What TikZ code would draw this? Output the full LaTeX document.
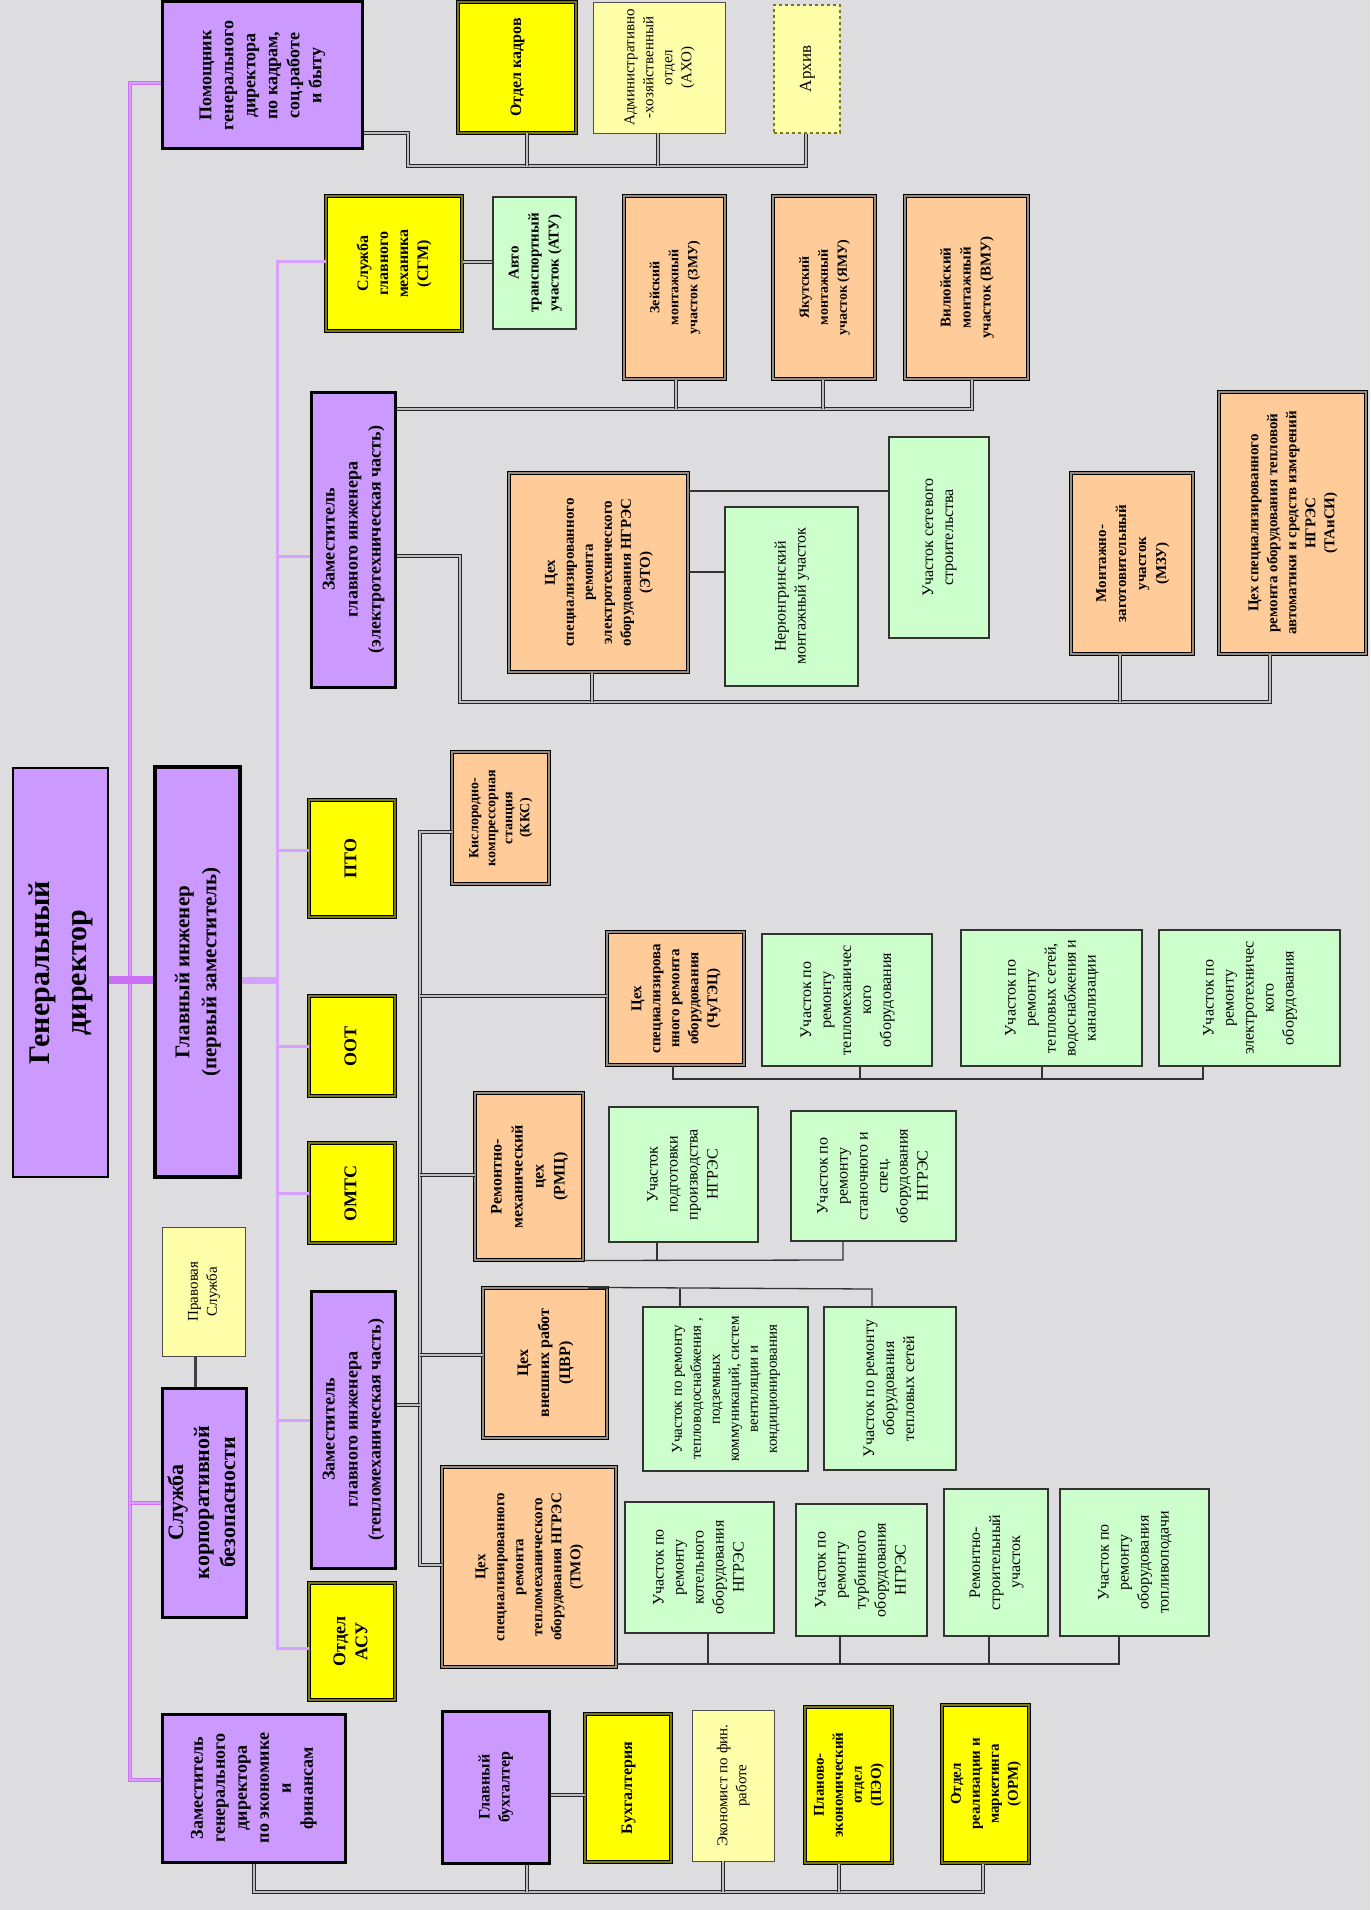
\documentclass[tikz,border=0pt]{standalone}
\usepackage{graphicx}
\usepackage{fontspec}
\setmainfont{Liberation Serif}

\definecolor{bg}{RGB}{221,221,223}
\definecolor{purp}{RGB}{204,153,255}
\definecolor{yel}{RGB}{255,255,0}
\definecolor{ltyel}{RGB}{255,255,170}
\definecolor{orng}{RGB}{255,204,153}
\definecolor{grn}{RGB}{204,255,204}
\definecolor{mag}{RGB}{204,112,245}
\definecolor{lmag}{RGB}{214,160,255}
\definecolor{ydbl}{RGB}{120,120,20}
\definecolor{odbl}{RGB}{150,140,130}
\definecolor{dcol}{RGB}{190,190,192}

\newcommand\rt[1]{\rotatebox{90}{\begin{tabular}{@{}c@{}}#1\end{tabular}}}

\tikzset{
  rect/.style args={#1/#2/#3/#4}{at={({(#1+#3)/2},{(#2+#4)/2})},
    minimum width={(#3-#1)*1pt}, minimum height={(#4-#2)*1pt}},
  pbox/.style={fill=purp, draw=black, line width=3pt, inner sep=0pt,
    font=\fontsize{16}{20}\selectfont\bfseries},
  ybox/.style={fill=yel, draw=black, double=ydbl, double distance=1.6pt,
    line width=1pt, inner sep=0pt, font=\fontsize{16}{20}\selectfont\bfseries},
  obox/.style={fill=orng, draw=black, double=odbl, double distance=1.6pt,
    line width=1pt, inner sep=0pt, font=\fontsize{15}{19}\selectfont\bfseries},
  gbox/.style={fill=grn, draw=black!80, line width=1.2pt, inner sep=0pt,
    font=\fontsize{16}{20}\selectfont},
  lybox/.style={fill=ltyel, draw=black!70, line width=0.8pt, inner sep=0pt,
    font=\fontsize{15}{19}\selectfont},
  mline/.style={draw=mag, double=lmag, double distance=1.6pt, line width=1.3pt},
  iline/.style={draw=lmag, line width=3pt},
  dline/.style={draw=black!85, double=dcol, double distance=1.4pt, line width=0.9pt},
  sline/.style={draw=black!80, line width=1.3pt}
}

\begin{document}
\begin{tikzpicture}[x=1pt,y=-1pt]
  \useasboundingbox (0,0) rectangle (1370,1910);
  \fill[bg] (0,0) rectangle (1370,1910);

  % top level
  \node[pbox, line width=2pt, rect=13/768/108/1177, font=\fontsize{30}{37}\selectfont\bfseries] (gd) {\rt{Генеральный\\директор}};
  \node[pbox, line width=4pt, rect=155/767/240/1177, font=\fontsize{21}{27}\selectfont\bfseries] (gi) {\rt{Главный инженер\\(первый заместитель)}};
  \node[pbox, rect=162/2/362/149, font=\fontsize{18}{22}\selectfont\bfseries] (pom) {\rt{Помощник\\генерального\\директора\\по кадрам,\\соц.работе\\и быту}};
  \node[lybox, rect=162/1227/245/1356] (prav) {\rt{Правовая\\Служба}};
  \node[pbox, rect=162/1388/246/1617, font=\fontsize{22}{26}\selectfont\bfseries] (skb) {\rt{Служба\\корпоративной\\безопасности}};
  \node[pbox, rect=162/1714/345/1862, font=\fontsize{18}{22}\selectfont\bfseries] (zamek) {\rt{Заместитель\\генерального\\директора\\по экономике\\и\\финансам}};

  % kadry
  \node[ybox, rect=458/2/576/133] (okadr) {\rt{Отдел кадров}};
  \node[lybox, rect=593/2/725/133] (akho) {\rt{Административно\\-хозяйственный\\отдел\\(АХО)}};
  \node[lybox, dashed, draw=ydbl, line width=1.2pt, rect=774/5/840/133, font=\fontsize{17}{20}\selectfont] (arkhiv) {\rt{Архив}};

  % second column
  \node[ybox, rect=326/196/462/331] (sgm) {\rt{Служба\\главного\\механика\\(СГМ)}};
  \node[gbox, rect=493/197/576/329, font=\fontsize{15}{20}\selectfont\bfseries] (atu) {\rt{Авто\\транспортный\\участок (АТУ)}};
  \node[pbox, rect=311/392/395/687, font=\fontsize{18}{23}\selectfont\bfseries] (etoz) {\rt{Заместитель\\главного инженера\\(электротехническая часть)}};
  \node[ybox, rect=309/800/395/917, font=\fontsize{18}{22}\selectfont\bfseries] (pto) {\rt{ПТО}};
  \node[ybox, rect=309/996/395/1096, font=\fontsize{18}{22}\selectfont\bfseries] (oot) {\rt{ООТ}};
  \node[ybox, rect=309/1143/395/1243, font=\fontsize{18}{22}\selectfont\bfseries] (omts) {\rt{ОМТС}};
  \node[pbox, rect=311/1291/395/1568, font=\fontsize{18}{23}\selectfont\bfseries] (tmoz) {\rt{Заместитель\\главного инженера\\(тепломеханическая часть)}};
  \node[ybox, rect=309/1583/395/1700, font=\fontsize{18}{22}\selectfont\bfseries] (asu) {\rt{Отдел\\АСУ}};

  % electro
  \node[obox, rect=624/196/725/379, font=\fontsize{14}{19}\selectfont\bfseries] (zmu) {\rt{Зейский\\монтажный\\участок (ЗМУ)}};
  \node[obox, rect=773/196/875/379, font=\fontsize{14}{19}\selectfont\bfseries] (yamu) {\rt{Якутский\\монтажный\\участок (ЯМУ)}};
  \node[obox, rect=905/196/1028/379, font=\fontsize{15}{20}\selectfont\bfseries] (vmu) {\rt{Вилюйский\\монтажный\\участок (ВМУ)}};
  \node[obox, rect=509/473/688/672] (eto) {\rt{Цех\\специализированного\\ремонта\\электротехнического\\оборудования НГРЭС\\(ЭТО)}};
  \node[gbox, rect=725/507/858/686] (neryu) {\rt{Нерюнгринский\\монтажный участок}};
  \node[gbox, rect=889/437/989/638] (setev) {\rt{Участок сетевого\\строительства}};
  \node[obox, rect=1071/473/1193/654, font=\fontsize{15}{20}\selectfont\bfseries] (mzu) {\rt{Монтажно-\\заготовительный\\участок\\(МЗУ)}};
  \node[obox, rect=1219/392/1366/654] (taisi) {\rt{Цех специализированного\\ремонта оборудования тепловой\\автоматики и средств измерений\\НГРЭС\\(ТАиСИ)}};

  % teplo
  \node[obox, rect=452/752/549/884, font=\fontsize{14}{17}\selectfont\bfseries] (kks) {\rt{Кислородно-\\компрессорная\\станция\\(ККС)}};
  \node[obox, rect=607/932/744/1065] (chutec) {\rt{Цех\\специализирова\\нного ремонта\\оборудования\\(ЧуТЭЦ)}};
  \node[gbox, rect=762/934/932/1066] (u_tm) {\rt{Участок по\\ремонту\\тепломеханичес\\кого\\оборудования}};
  \node[gbox, rect=961/930/1142/1066] (u_ts) {\rt{Участок по\\ремонту\\тепловых сетей,\\водоснабжения и\\канализации}};
  \node[gbox, rect=1159/930/1340/1066] (u_el) {\rt{Участок по\\ремонту\\электротехничес\\кого\\оборудования}};
  \node[obox, rect=475/1093/583/1260, font=\fontsize{16}{21}\selectfont\bfseries] (rmc) {\rt{Ремонтно-\\механический\\цех\\(РМЦ)}};
  \node[gbox, rect=609/1107/758/1242] (u_pp) {\rt{Участок\\подготовки\\производства\\НГРЭС}};
  \node[gbox, rect=791/1111/956/1241] (u_st) {\rt{Участок по\\ремонту\\станочного и\\спец.\\оборудования\\НГРЭС}};
  \node[obox, rect=483/1288/607/1438, font=\fontsize{16}{21}\selectfont\bfseries] (cvr) {\rt{Цех\\внешних работ\\(ЦВР)}};
  \node[gbox, rect=643/1307/808/1471, font=\fontsize{15}{19}\selectfont] (u_tv) {\rt{Участок по ремонту\\тепловодоснабжения ,\\подземных\\коммуникаций, систем\\вентиляции и\\кондиционирования}};
  \node[gbox, rect=824/1307/956/1470] (u_ot) {\rt{Участок по ремонту\\оборудования\\тепловых сетей}};
  \node[obox, rect=442/1467/616/1667] (tmo) {\rt{Цех\\специализированного\\ремонта\\тепломеханического\\оборудования НГРЭС\\(ТМО)}};
  \node[gbox, rect=625/1502/774/1633] (u_ko) {\rt{Участок по\\ремонту\\котельного\\оборудования\\НГРЭС}};
  \node[gbox, rect=796/1504/927/1636] (u_tu) {\rt{Участок по\\ремонту\\турбинного\\оборудования\\НГРЭС}};
  \node[gbox, rect=944/1489/1048/1636] (u_rs) {\rt{Ремонтно-\\строительный\\участок}};
  \node[gbox, rect=1060/1489/1209/1636] (u_tp) {\rt{Участок по\\ремонту\\оборудования\\топливоподачи}};

  % finance
  \node[pbox, rect=442/1711/549/1863] (gb) {\rt{Главный\\бухгалтер}};
  \node[ybox, rect=585/1714/671/1862] (buh) {\rt{Бухгалтерия}};
  \node[lybox, rect=692/1710/774/1861] (ekon) {\rt{Экономист по фин.\\работе}};
  \node[ybox, rect=805/1707/892/1863, font=\fontsize{15}{19}\selectfont\bfseries] (peo) {\rt{Планово-\\экономический\\отдел\\(ПЭО)}};
  \node[ybox, rect=942/1705/1029/1863, font=\fontsize{15}{19}\selectfont\bfseries] (orm) {\rt{Отдел\\реализации и\\маркетинга\\(ОРМ)}};

  % magenta lines
  \draw[mline] (pom.west|-0,83) -| (130,1780) -- (zamek.west|-0,1780);
  \draw[mline] (130,1503) -- (skb.west|-0,1503);
  \draw[draw=mag, line width=8pt] (gd.east|-0,980) -- (gi.west|-0,980);
  \draw[iline] (sgm.west|-0,262) -| (277,1648) -- (asu.west|-0,1648);
  \foreach \n/\y in {etoz/556, pto/850, oot/1046, omts/1193, tmoz/1420}
    \draw[iline] (277,\y) -- (\n.west|-0,\y);
  \draw[iline, line width=7pt] (gi.east|-0,980) -- (277,980);

  % black lines
  \draw[dline] (pom.east|-0,133) -- (408,133) |- (806,166) -- (arkhiv.south -| 806,0);
  \foreach \n/\x in {okadr/527, akho/658}
    \draw[dline] (\n.south -| \x,0) -- (\x,166);
  \draw[dline] (sgm.east|-0,262) -- (atu.west|-0,262);
  \draw[dline] (etoz.east|-0,409) -| (vmu.south -| 972,0);
  \foreach \n/\x in {zmu/676, yamu/823}
    \draw[dline] (\n.south -| \x,0) -- (\x,409);
  \draw[dline] (etoz.east|-0,556) -- (460,556) |- (1270,702) -- (taisi.south -| 1270,0);
  \foreach \n/\x in {eto/592, mzu/1120}
    \draw[dline] (\n.south -| \x,0) -- (\x,702);
  \draw[sline] (eto.east|-0,572) -- (neryu.west|-0,572);
  \draw[sline] (eto.east|-0,491) -- (setev.west|-0,491);

  \draw[dline] (kks.west|-0,832) -| (420,1565) -- (tmo.west|-0,1565);
  \foreach \n/\y in {chutec/996, rmc/1175, cvr/1355}
    \draw[dline] (420,\y) -- (\n.west|-0,\y);
  \draw[dline] (tmoz.east|-0,1405) -- (420,1405);

  \draw[sline] (chutec.south -| 673,0) -- (673,1079) -| (u_el.south -| 1203,0);
  \foreach \n/\x in {u_tm/860, u_ts/1042}
    \draw[sline] (\n.south -| \x,0) -- (\x,1079);
  \draw[sline] (rmc.south east) -- (843,1260) -- (u_st.south -| 843,0);
  \draw[sline] (657,1260) -- (u_pp.south -| 657,0);
  \draw[sline, line width=3pt] (cvr.north east) ++(-20,0) -- (cvr.north east);
  \draw[sline] (cvr.north east) -- (872,1289) -- (u_ot.north -| 872,0);
  \draw[sline] (680,1289) -- (u_tv.north -| 680,0);
  \draw[sline] (tmo.east|-0,1664) -| (u_tp.south -| 1119,0);
  \foreach \n/\x in {u_ko/708, u_tu/840, u_rs/989}
    \draw[sline] (\x,1664) -- (\n.south -| \x,0);

  \draw[black!75, line width=3pt] (prav.south -| 195,0) -- (skb.north -| 195,0);
  \draw[dline] (gb.east|-0,1795) -- (buh.west|-0,1795);
  \draw[dline] (zamek.south -| 254,0) |- (983,1892) -- (orm.south -| 983,0);
  \foreach \n/\x in {gb/527, ekon/723, peo/839}
    \draw[dline] (\n.south -| \x,0) -- (\x,1892);
\end{tikzpicture}
\end{document}
